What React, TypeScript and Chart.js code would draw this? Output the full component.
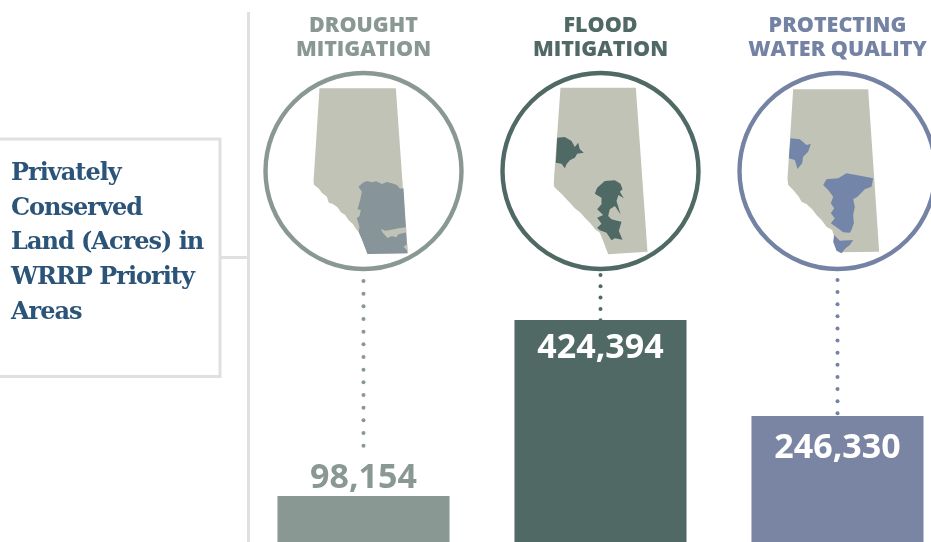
import React, { useEffect, useRef } from "react";
import { Chart, registerables } from "chart.js";

Chart.register(...registerables);

const categories: string[][] = [["DROUGHT", "MITIGATION"], ["FLOOD", "MITIGATION"], ["PROTECTING", "WATER QUALITY"]];
const acres: number[] = [98154, 424394, 246330];
const barColors: string[] = ["#8a9894", "#506965", "#7a84a3"];
const headColors: string[] = ["#8a9894", "#506965", "#7483a4"];
const ringColors: string[] = ["#8a9894", "#4f6965", "#7483a4"];
const regionColors: string[] = ["#87959a", "#4f6965", "#7385a8"];
const sideTitle: string[] = ["Privately", "Conserved", "Land (Acres) in", "WRRP Priority", "Areas"];

const MAP_COLOR = "#c1c3b6";
type Pt = number[];
// decorative province outlines, in 3x px around each ring's centre
const outlines: { c: Pt; land: Pt[]; regions: Pt[][]; holes: Pt[][] }[] = [
  {
    c: [340, 513],
    land: [[208, 265], [437, 265], [472, 760], [352, 762], [338, 725], [330, 700], [318, 688], [308, 672], [295, 660], [285, 645], [272, 637], [262, 622], [248, 612], [236, 608], [230, 590], [215, 578], [205, 565], [192, 555], [190, 545]],
    regions: [[[325, 560], [338, 548], [350, 543], [365, 547], [378, 544], [395, 552], [410, 546], [425, 550], [440, 555], [450, 566], [460, 565], [472, 760], [352, 762], [338, 725], [325, 695], [328, 680], [320, 655], [328, 648], [332, 630], [322, 628], [330, 600], [335, 575]]],
    holes: [[[392, 686], [405, 692], [420, 690], [445, 685], [468, 682], [469, 697], [445, 703], [438, 712], [425, 708], [412, 714], [405, 706], [398, 698]], [[472, 732], [460, 740], [472, 752]]],
  },
  {
    c: [332, 510],
    land: [[212, 260], [438, 260], [473, 752], [355, 760], [338, 715], [330, 695], [316, 685], [300, 665], [285, 650], [272, 635], [255, 622], [240, 605], [230, 595], [215, 578], [200, 565], [192, 555], [192, 540]],
    regions: [
      [[202, 410], [225, 408], [245, 420], [255, 438], [265, 425], [270, 445], [282, 455], [262, 458], [255, 470], [240, 478], [230, 490], [225, 502], [215, 488], [198, 485]],
      [[345, 540], [375, 538], [392, 548], [398, 565], [390, 572], [402, 592], [386, 582], [380, 600], [392, 640], [375, 615], [360, 625], [355, 645], [365, 655], [385, 660], [395, 662], [387, 690], [398, 716], [375, 712], [365, 718], [350, 695], [330, 688], [322, 680], [335, 668], [322, 650], [340, 642], [322, 625], [335, 610], [335, 590], [315, 578], [322, 560]],
    ],
    holes: [],
  },
  {
    c: [338, 513],
    land: [[205, 268], [430, 268], [463, 755], [345, 757], [328, 710], [322, 690], [305, 680], [290, 660], [275, 645], [262, 628], [245, 612], [230, 605], [222, 590], [205, 570], [190, 555], [188, 535]],
    regions: [
      [[197, 415], [225, 418], [245, 435], [258, 432], [250, 455], [235, 470], [232, 490], [218, 507], [210, 480], [192, 475]],
      [[295, 555], [305, 538], [340, 535], [365, 520], [410, 528], [445, 535], [440, 560], [420, 568], [398, 590], [385, 598], [390, 620], [385, 645], [387, 670], [380, 690], [375, 698], [355, 697], [335, 682], [318, 670], [330, 655], [318, 640], [328, 625], [318, 610], [325, 590], [310, 570]],
      [[328, 705], [345, 722], [385, 720], [375, 735], [362, 745], [350, 760], [335, 752], [325, 725]],
    ],
    holes: [],
  },
];

const RING_Y = 171;
const RING_R = 98;
const dotStart: number[] = [281, 275, 280];
const dotEnd: number[] = [446, 320, 414];
const dotGap: number[] = [12.67, 11.3, 12.12];
const labelOffset: number[] = [-8, 38, 42];

const fmt = (v: number) => v.toLocaleString("en-US");

const decor = {
  id: "decor",
  afterDatasetsDraw(chart: any) {
    const ctx: CanvasRenderingContext2D = chart.ctx;
    const bars = chart.getDatasetMeta(0).data;
    ctx.save();

    // rules and side box
    ctx.strokeStyle = "#e0e0e0";
    ctx.lineWidth = 3;
    ctx.beginPath();
    ctx.moveTo(248.5, 12);
    ctx.lineTo(248.5, 549);
    ctx.moveTo(220, 257.5);
    ctx.lineTo(248, 257.5);
    ctx.moveTo(-4, 139);
    ctx.lineTo(220, 139);
    ctx.lineTo(220, 376.5);
    ctx.lineTo(-4, 376.5);
    ctx.stroke();

    ctx.fillStyle = "#2b5478";
    ctx.font = "bold 24px 'DejaVu Serif'";
    ctx.textAlign = "left";
    ctx.textBaseline = "alphabetic";
    (ctx as any).letterSpacing = "-1px";
    sideTitle.forEach((line, i) => ctx.fillText(line, 11, 180 + i * 34.7));
    (ctx as any).letterSpacing = "0px";

    bars.forEach((bar: any, i: number) => {
      const cx = bar.x;
      const o = outlines[i];
      const trace = (pts: Pt[]) => {
        ctx.beginPath();
        pts.forEach((p, k) => {
          const x = cx + (p[0] - o.c[0]) / 3;
          const y = RING_Y + (p[1] - o.c[1]) / 3;
          k ? ctx.lineTo(x, y) : ctx.moveTo(x, y);
        });
        ctx.closePath();
        ctx.fill();
      };
      ctx.filter = "blur(0.5px)";
      ctx.fillStyle = MAP_COLOR;
      trace(o.land);
      ctx.fillStyle = regionColors[i];
      o.regions.forEach(trace);
      ctx.fillStyle = MAP_COLOR;
      o.holes.forEach(trace);
      ctx.filter = "none";

      ctx.strokeStyle = ringColors[i];
      ctx.lineWidth = 4.4;
      ctx.beginPath();
      ctx.arc(cx, RING_Y, RING_R, 0, Math.PI * 2);
      ctx.stroke();

      // dotted leader
      ctx.fillStyle = ringColors[i];
      for (let y = dotStart[i]; y <= dotEnd[i] + 0.5; y += dotGap[i]) {
        ctx.beginPath();
        ctx.arc(cx, y, 2, 0, Math.PI * 2);
        ctx.fill();
      }

      // value label
      ctx.fillStyle = labelOffset[i] < 0 ? barColors[i] : "#ffffff";
      ctx.font = "bold 34px 'Noto Sans'";
      ctx.textAlign = "center";
      ctx.textBaseline = "alphabetic";
      ctx.fillText(fmt(acres[i]), cx, bar.y + labelOffset[i]);
    });
    ctx.restore();
  },
};

export default function App() {
  const ref = useRef<HTMLCanvasElement>(null);
  useEffect(() => {
    document.body.style.margin = "0";
    const chart = new Chart(ref.current as HTMLCanvasElement, {
      type: "bar",
      data: {
        labels: categories as any,
        datasets: [
          {
            data: acres,
            backgroundColor: barColors,
            borderWidth: 0,
            barPercentage: 0.726,
            categoryPercentage: 1,
          },
        ],
      },
      options: {
        responsive: false,
        animation: false,
        layout: { padding: { left: 245, right: 0, top: 0, bottom: 0 } },
        plugins: { legend: { display: false }, tooltip: { enabled: false } },
        scales: {
          x: {
            position: "top",
            grid: { display: false },
            border: { display: false },
            afterFit(s: any) {
              s.height = 60;
            },
            ticks: {
              maxRotation: 0,
              autoSkip: false,
              padding: -10,
              color: headColors,
              font: { family: "'Open Sans'", weight: "800", size: 21.5, lineHeight: 1.12 },
            },
          },
          y: { display: false, min: 0, max: 906300 },
        },
      },
      plugins: [decor],
    } as any);
    return () => chart.destroy();
  }, []);
  return (
    <div style={{ position: "fixed", left: 0, top: 0, width: 931, height: 542, overflow: "hidden", background: "#fff" }}>
      <canvas ref={ref} width={956} height={549} style={{ display: "block", width: 956, height: 549 }} />
    </div>
  );
}
